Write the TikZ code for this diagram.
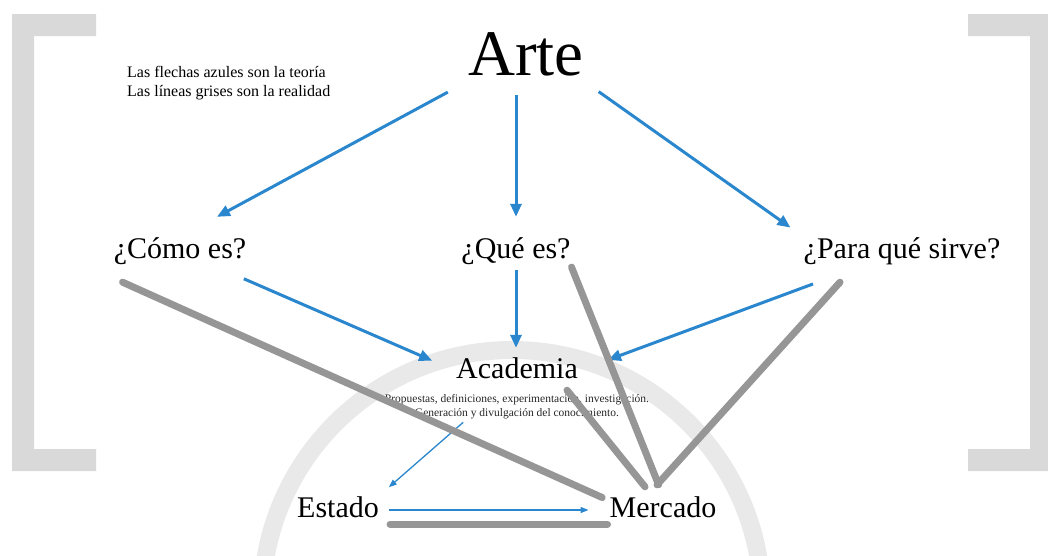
\documentclass[tikz,border=0pt]{standalone}
\usepackage{fontspec}
\setmainfont{Liberation Serif}
\usetikzlibrary{arrows.meta}
\definecolor{azul}{RGB}{42,135,205}
\definecolor{gris}{RGB}{150,150,150}
\definecolor{grisclaro}{RGB}{233,233,233}
\definecolor{corchete}{RGB}{217,217,217}

\begin{document}
\begin{tikzpicture}[x=1pt,y=-1pt,
  titulo/.style={font={\fontsize{65}{70}\selectfont}, inner sep=0pt, text height=46pt, text depth=6pt},
  etiqueta/.style={font={\fontsize{30}{34}\selectfont}, inner sep=0pt, text height=21pt, text depth=7pt},
  teoria/.style={azul, line width=3pt, -{Triangle[length=13pt,width=11pt]}},
  teoriafina/.style={azul, line width=1.3pt, -{Triangle[length=8pt,width=6pt]}},
  realidad/.style={gris, line width=7pt, line cap=round}]
  \useasboundingbox (0,0) rectangle (1048,555);
  % 背景圆弧
  \begin{scope}
    \clip (0,0) rectangle (1048,555);
    \draw[grisclaro, line width=18pt] (512,600) circle[radius=250pt];
  \end{scope}
  % 两侧括号
  \fill[corchete] (12,14) -- (96,14) -- (96,36) -- (34,36) -- (34,449) -- (96,449) -- (96,471) -- (12,471) -- cycle;
  \fill[corchete] (1048,14) -- (968,14) -- (968,36) -- (1030,36) -- (1030,449) -- (968,449) -- (968,471) -- (1048,471) -- cycle;
  % 文字节点
  \node[titulo, anchor=base] (arte) at (526,75) {Arte};
  \node[anchor=north west, align=left, inner sep=0pt, font={\fontsize{16}{19}\selectfont}] (leyenda) at (127,66)
    {Las flechas azules son la teoría\\Las líneas grises son la realidad};
  \node[etiqueta, anchor=base] (como) at (180,258) {¿Cómo es?};
  \node[etiqueta, anchor=base] (que) at (516,258) {¿Qué es?};
  \node[etiqueta, anchor=base] (para) at (902,258) {¿Para qué sirve?};
  \node[etiqueta, anchor=base] (academia) at (517,378) {Academia};
  \node[anchor=north, align=center, inner sep=0pt, text=black!85, font={\fontsize{11.5}{14}\selectfont}] (tareas) at (517,394)
    {Propuestas, definiciones, experimentación, investigación.\\Generación y divulgación del conocimiento.};
  \node[etiqueta, anchor=base] (estado) at (338,517) {Estado};
  \node[etiqueta, anchor=base] (mercado) at (663,517) {Mercado};
  % 蓝色箭头：理论
  \draw[teoria, shorten <=23pt, shorten >=42pt] (arte.south west) -- (como.north);
  \draw[teoria, shorten <=14pt, shorten >=20pt] (arte.south -| que) -- (que);
  \draw[teoria, shorten <=18pt, shorten >=16pt] (arte.south east) -- (para.north west);
  \draw[teoria, shorten <=34pt, shorten >=26pt] (como) -- (academia.west);
  \draw[teoria, shorten <=5pt, shorten >=9pt] (que) -- (que |- academia.north);
  \draw[teoria, shorten <=54pt, shorten >=32pt] (para) -- (academia.east);
  \draw[teoriafina, shorten <=5pt, shorten >=13pt] ([xshift=-50pt]tareas.south) -- (estado.north east);
  \draw[teoriafina, shorten <=10pt, shorten >=21pt] (estado.east) -- (mercado.west);
  % 灰色线：现实
  \draw[realidad, shorten >=8pt] ([shift={(9pt,-17pt)}]como.south west) -- ([yshift=-5pt]mercado.north west);
  \draw[realidad, shorten <=2pt, shorten >=12pt] (que.south east) -- (mercado.north);
  \draw[realidad] ([shift={(-62pt,-17pt)}]para.south) -- ([shift={(-6pt,11pt)}]mercado.north);
  \draw[realidad] ([shift={(-11pt,-5pt)}]academia.south east) -- ([shift={(-18pt,9pt)}]mercado.north);
  \draw[realidad, shorten <=11pt, shorten >=2pt] (estado.south east) -- (mercado.south west);
\end{tikzpicture}
\end{document}
